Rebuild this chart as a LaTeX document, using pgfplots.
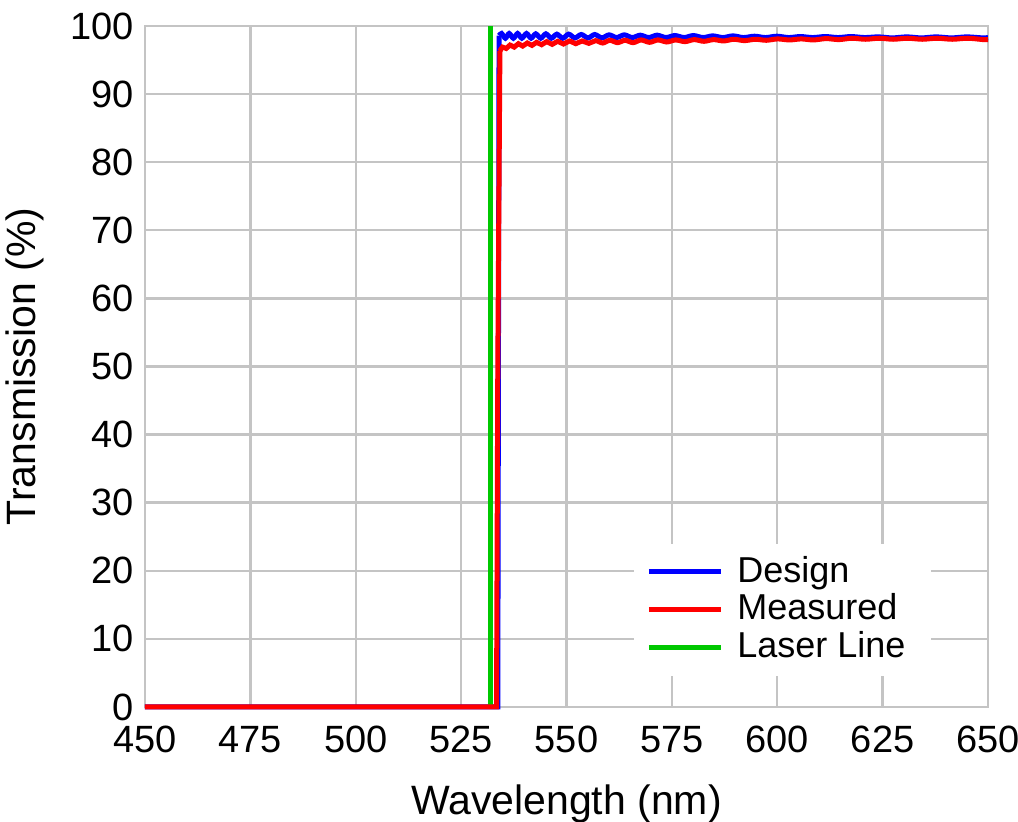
\documentclass[border=0pt]{standalone}
\usepackage{fontspec}
\setmainfont{Liberation Sans}
\usepackage{pgfplots}
\pgfplotsset{compat=1.18}
\definecolor{gridgray}{RGB}{196,196,196}
\definecolor{lgreen}{RGB}{0,200,0}
\begin{document}
\fontsize{19.5}{22}\selectfont
\begin{tikzpicture}
\path[use as bounding box] (-72.5pt,-57.5pt) rectangle (436.5pt,353.5pt);
\begin{axis}[
  at={(0,0)}, anchor=south west,
  scale only axis, width=421.5pt, height=340.5pt,
  xmin=450, xmax=650, ymin=0, ymax=100,
  xtick={450,475,...,650}, ytick={0,10,...,100},
  major tick length=0pt,
  grid=major,
  major grid style={gridgray, line width=1.2pt},
  axis line style={gridgray, line width=1.2pt},
  clip=false,
  /pgf/number format/assume math mode=true,
  tick label style={font=\fontsize{19}{22}\selectfont},
  xticklabel style={inner ysep=0pt, yshift=-9.5pt},
  yticklabel style={xshift=1pt, inner ysep=0pt},
  xlabel={Wavelength (nm)}, ylabel={Transmission (\%)},
  label style={font=\fontsize{20.5}{23}\selectfont},
  xlabel style={yshift=-9pt},
  ylabel style={yshift=0pt},
  legend style={at={(0.58,0.24)}, anchor=north west, draw=none, fill=white,
    font=\fontsize{18}{21}\selectfont, row sep=-1pt, inner xsep=6pt, inner ysep=4pt,
    nodes={inner xsep=7pt}},
  legend cell align=left,
  legend image code/.code={\draw[#1] (0pt,0pt) -- (36pt,0pt);},
]
\addlegendimage{blue, line width=2.5pt}
\addlegendentry{Design}
\addlegendimage{red, line width=2.5pt}
\addlegendentry{Measured}
\addlegendimage{lgreen, line width=2.5pt}
\addlegendentry{Laser Line}

% Design edge
\addplot[blue, line width=2.5pt, forget plot] coordinates {(450,0) (533.7,0) (534.0,98.6)};
% Design ripple
\addplot[blue, line width=2.5pt, smooth, forget plot] coordinates {
(534.0,98.6) (534.6,98.9) (535.5,98.2) (536.4,98.9) (537.4,98.2) (538.4,98.9)
(539.4,98.2) (540.5,98.9) (541.6,98.2) (542.7,98.85) (543.9,98.2) (545.1,98.85)
(546.4,98.2) (547.7,98.8) (549.1,98.2) (550.5,98.8) (552.0,98.25) (553.5,98.75)
(555.1,98.25) (556.7,98.75) (558.4,98.25) (560.1,98.7) (561.9,98.3) (563.7,98.7)
(565.6,98.3) (567.5,98.65) (569.5,98.3) (571.5,98.65) (573.6,98.3) (575.7,98.6)
(577.9,98.3) (580.1,98.6) (582.4,98.3) (584.7,98.55) (587.1,98.3) (589.5,98.55)
(592.0,98.3) (594.6,98.5) (597.2,98.3) (599.9,98.5) (602.7,98.3) (605.5,98.45)
(608.4,98.3) (611.4,98.45) (614.4,98.3) (617.5,98.45) (620.7,98.3) (624.0,98.4)
(627.3,98.25) (630.7,98.4) (634.2,98.25) (637.7,98.4) (641.3,98.25) (645.0,98.4)
(648.7,98.25) (650,98.3)};
% Laser line
\addplot[lgreen, line width=2.5pt, forget plot] coordinates {(532,0) (532,100)};
% Measured edge
\addplot[red, line width=2.5pt, forget plot] coordinates {(450,0) (533.4,0) (533.7,50) (534.2,96.3)};
% Measured ripple
\addplot[red, line width=2.5pt, smooth, forget plot] coordinates {
(534.2,96.3) (534.8,96.9) (535.7,96.7) (536.6,97.2) (537.6,96.9) (538.6,97.4)
(539.6,97.05) (540.7,97.5) (541.8,97.15) (542.9,97.6) (544.1,97.25) (545.3,97.7)
(546.6,97.3) (547.9,97.75) (549.3,97.35) (550.7,97.8) (552.2,97.4) (553.7,97.8)
(555.3,97.45) (556.9,97.85) (558.6,97.5) (560.3,97.9) (562.1,97.55) (563.9,97.9)
(565.8,97.55) (567.7,97.95) (569.7,97.6) (571.7,97.95) (573.8,97.65) (575.9,97.95)
(578.1,97.7) (580.3,98.0) (582.6,97.75) (584.9,98.0) (587.3,97.8) (589.7,98.05)
(592.2,97.85) (594.8,98.05) (597.4,97.9) (600.1,98.1) (602.9,97.95) (605.7,98.1)
(608.6,97.95) (611.6,98.15) (614.6,98.0) (617.7,98.2) (620.9,98.05) (624.2,98.2)
(627.5,98.05) (630.9,98.2) (634.4,98.05) (637.9,98.2) (641.5,98.05) (645.2,98.2)
(648.9,98.0) (650,98.0)};
\end{axis}
\end{tikzpicture}
\end{document}
